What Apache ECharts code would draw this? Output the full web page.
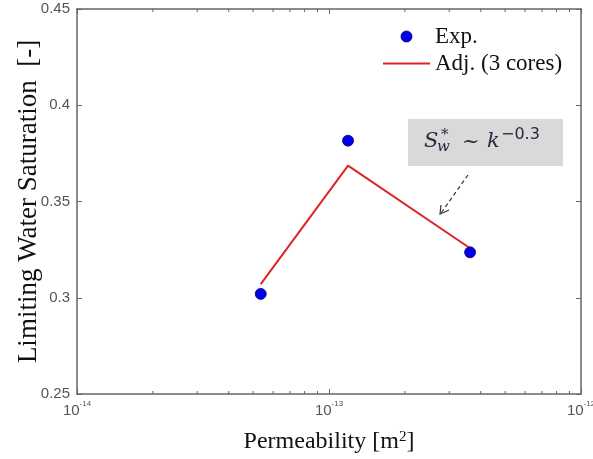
<!DOCTYPE html>
<html>
<head>
<meta charset="utf-8">
<script src="https://cdn.jsdelivr.net/npm/echarts@6/dist/echarts.min.js"></script>
<style>html,body{margin:0;padding:0;background:#fff}#c{width:593px;height:459px}</style>
</head>
<body>
<div id="c"></div>
<script>
// Data
const permeability = [5.36e-14, 1.19e-13, 3.63e-13];
const swExp = [0.302, 0.3816, 0.3236];
const swAdj = [0.3071, 0.3686, 0.3257];
const minorTickValues = [2e-14,3e-14,4e-14,5e-14,6e-14,7e-14,8e-14,9e-14,2e-13,3e-13,4e-13,5e-13,6e-13,7e-13,8e-13,9e-13];

const chart = echarts.init(document.getElementById('c'));
const axisColor = '#666';
const labelColor = '#555';
const serif = 'Liberation Serif';
const annColor = '#262a3c';

function powLabel(v) {
  const e = Math.round(Math.log10(v));
  return '{b|10}{sup|' + e + '}';
}

const xCommon = {
  type: 'log', logBase: 10, min: 1e-14, max: 1e-12,
  axisLine: { show: true, lineStyle: { color: axisColor, width: 1.5 } },
  axisTick: { show: true, inside: true, length: 5, lineStyle: { color: axisColor } },
  splitLine: { show: false }
};
const yCommon = {
  type: 'value', min: 0.25, max: 0.45, interval: 0.05,
  axisLine: { show: true, lineStyle: { color: axisColor, width: 1.5 } },
  axisTick: { show: true, inside: true, length: 5, lineStyle: { color: axisColor } },
  splitLine: { show: false }
};

chart.setOption({
  animation: false,
  backgroundColor: '#fff',
  grid: { left: 77, right: 12, top: 9, bottom: 65, containLabel: false, outerBoundsMode: 'none' },
  xAxis: [
    Object.assign({}, xCommon, {
      position: 'bottom',
      name: 'Permeability [m{sup|2}]',
      nameLocation: 'middle', nameGap: 36, nameMoveOverlap: false,
      nameTextStyle: {
        fontFamily: serif, fontSize: 24, color: '#111',
        rich: { sup: { fontFamily: serif, fontSize: 15, verticalAlign: 'top', lineHeight: 16, color: '#111' } }
      },
      axisLabel: {
        margin: 6, formatter: powLabel,
        rich: {
          b: { fontFamily: 'Liberation Sans', fontSize: 15, color: labelColor, lineHeight: 18, verticalAlign: 'bottom' },
          sup: { fontFamily: 'Liberation Sans', fontSize: 8, color: labelColor, verticalAlign: 'top', lineHeight: 18, padding: [0,0,6,0] }
        }
      }
    }),
    Object.assign({}, xCommon, { position: 'top', axisLabel: { show: false } })
  ],
  yAxis: [
    Object.assign({}, yCommon, {
      position: 'left',
      name: 'Limiting Water Saturation  [-]',
      nameLocation: 'middle', nameGap: 35, nameMoveOverlap: false,
      nameTextStyle: { fontFamily: serif, fontSize: 27, color: '#111' },
      axisLabel: {
        margin: 7, color: labelColor, fontFamily: 'Liberation Sans', fontSize: 15,
        formatter: function (v) { return String(Math.round(v * 100) / 100); }
      }
    }),
    Object.assign({}, yCommon, { position: 'right', axisLabel: { show: false } })
  ],
  legend: {
    orient: 'vertical', left: 378, top: 19, itemWidth: 47, itemHeight: 11, itemGap: 2,
    textStyle: { fontFamily: serif, fontSize: 23, lineHeight: 25, color: '#111' },
    data: [
      { name: 'Exp.', icon: 'circle', itemStyle: { color: '#0000ee', borderColor: '#00006a', borderWidth: 0.8 } },
      { name: 'Adj. (3 cores)', icon: 'path://M0,0 L47,0 L47,2 L0,2 Z', itemStyle: { color: '#e02424', borderWidth: 0 } }
    ]
  },
  series: [
    {
      name: 'Adj. (3 cores)', type: 'line',
      data: permeability.map((k, i) => [k, swAdj[i]]),
      showSymbol: false, symbol: 'none',
      lineStyle: { color: '#e02424', width: 2 },
      itemStyle: { color: '#e02424' }, z: 2
    },
    {
      name: 'Exp.', type: 'scatter',
      data: permeability.map((k, i) => [k, swExp[i]]),
      symbol: 'circle', symbolSize: 11,
      itemStyle: { color: '#0000ee', borderColor: '#00006a', borderWidth: 0.8, opacity: 1 }, z: 3
    },
    {
      type: 'custom', silent: true, legendHoverLink: false,
      data: minorTickValues.map(v => [v, 0.25]),
      renderItem: function (params, api) {
        const p = api.coord([api.value(0), 0.25]);
        const cs = params.coordSys;
        const top = cs.y;
        const bottom = cs.y + cs.height;
        return {
          type: 'group',
          children: [
            { type: 'line', shape: { x1: p[0], y1: bottom, x2: p[0], y2: bottom - 3 }, style: { stroke: axisColor, lineWidth: 1 } },
            { type: 'line', shape: { x1: p[0], y1: top, x2: p[0], y2: top + 3 }, style: { stroke: axisColor, lineWidth: 1 } }
          ]
        };
      }
    }
  ],
  graphic: [
    { type: 'rect', shape: { x: 408, y: 119, width: 155, height: 47 }, style: { fill: '#d9d9d9' }, z: 10 },
    { type: 'text', x: 424, y: 142, z: 11, style: { text: 'S', fontFamily: 'DejaVu Serif', fontStyle: 'italic', fontSize: 21, fill: annColor, verticalAlign: 'middle' } },
    { type: 'text', x: 437, y: 147, z: 11, style: { text: 'w', fontFamily: 'DejaVu Serif', fontStyle: 'italic', fontSize: 15, fill: annColor, verticalAlign: 'middle' } },
    { type: 'text', x: 441, y: 135, z: 11, style: { text: '*', fontFamily: 'DejaVu Serif', fontSize: 15, fill: annColor, verticalAlign: 'middle' } },
    { type: 'text', x: 462, y: 143, z: 11, style: { text: '~', fontFamily: 'DejaVu Serif', fontSize: 21, fill: annColor, verticalAlign: 'middle' } },
    { type: 'text', x: 487, y: 142, z: 11, style: { text: 'k', fontFamily: 'DejaVu Serif', fontStyle: 'italic', fontSize: 21, fill: annColor, verticalAlign: 'middle' } },
    { type: 'text', x: 501, y: 135, z: 11, style: { text: '−0.3', fontFamily: 'DejaVu Sans', fontSize: 16, fill: annColor, verticalAlign: 'middle' } },
    { type: 'line', shape: { x1: 468, y1: 175, x2: 441, y2: 213 }, style: { stroke: '#333', lineWidth: 1.2, lineDash: [4, 3] }, z: 10 },
    { type: 'polyline', shape: { points: [[441, 205], [440, 214], [449, 210]] }, style: { stroke: '#333', lineWidth: 1.2, fill: null }, z: 10 }
  ]
});
</script>
</body>
</html>
